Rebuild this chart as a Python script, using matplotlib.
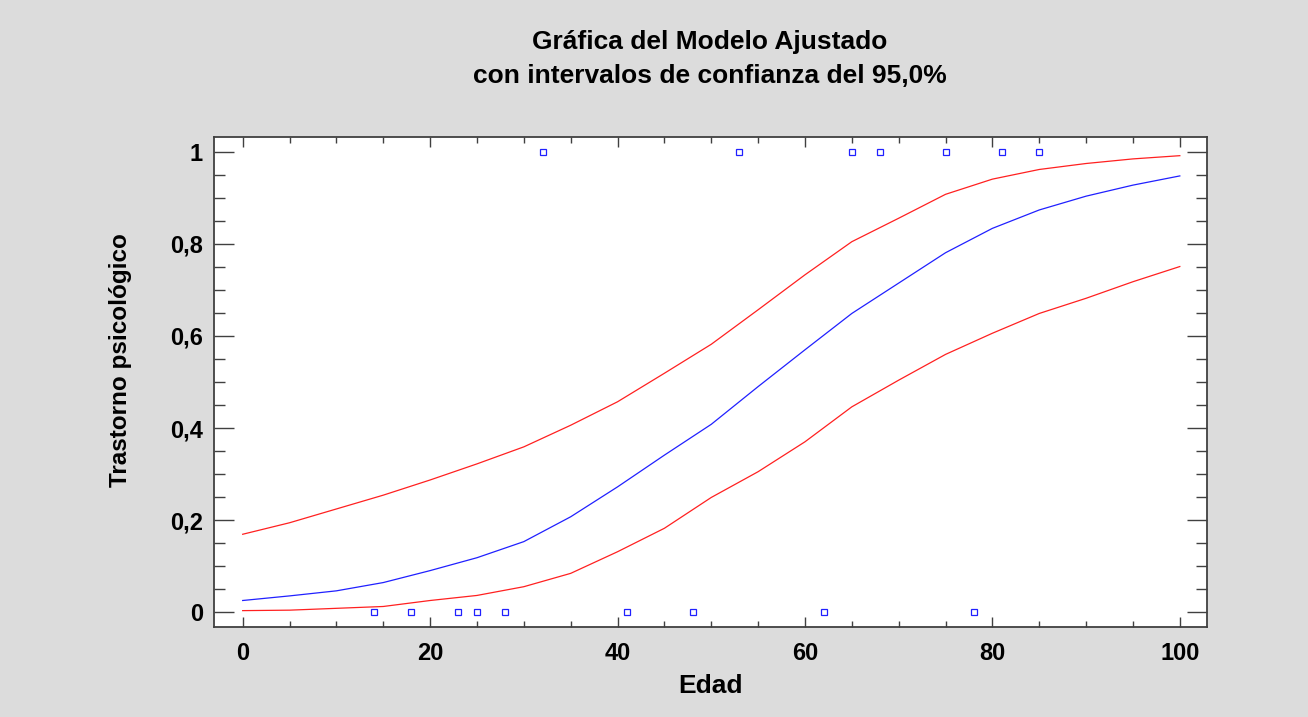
import numpy as np
import matplotlib
matplotlib.use("Agg")
import matplotlib.pyplot as plt
from matplotlib.ticker import MultipleLocator, FuncFormatter

# observed cases (Edad, Trastorno psicologico 0/1)
edad_0 = [14, 18, 23, 25, 28, 41, 48, 62, 78]
edad_1 = [32, 53, 65, 68, 75, 81, 85]

# fitted model and 95% limits, every 5 years
edad_fit = [0, 5, 10, 15, 20, 25, 30, 35, 40, 45, 50,
            55, 60, 65, 70, 75, 80, 85, 90, 95, 100]
ajuste = [0.025, 0.035, 0.046, 0.064, 0.090, 0.118, 0.153, 0.207, 0.272, 0.341, 0.408,
          0.490, 0.570, 0.649, 0.715, 0.781, 0.834, 0.874, 0.904, 0.928, 0.948]
lim_sup = [0.169, 0.194, 0.224, 0.254, 0.287, 0.322, 0.359, 0.406, 0.457, 0.519, 0.582,
           0.657, 0.733, 0.805, 0.856, 0.908, 0.941, 0.962, 0.975, 0.985, 0.992]
lim_inf = [0.003, 0.004, 0.008, 0.012, 0.025, 0.036, 0.055, 0.084, 0.131, 0.182, 0.249,
           0.305, 0.370, 0.446, 0.504, 0.560, 0.606, 0.649, 0.682, 0.718, 0.751]

plt.rcParams['font.family'] = ['Liberation Sans', 'DejaVu Sans']
plt.rcParams['font.weight'] = 'bold'

bg = '#dcdcdc'
fig = plt.figure(figsize=(13.08, 7.17), dpi=100, facecolor=bg)
W, H = 1308, 717
ax = fig.add_axes([214 / W, 1 - 627 / H, (1207 - 214) / W, (627 - 137) / H])
ax.set_facecolor('white')

ax.plot(edad_fit, lim_sup, color='#ff2020', lw=0.9)
ax.plot(edad_fit, lim_inf, color='#ff2020', lw=0.9)
ax.plot(edad_fit, ajuste, color='#2020ff', lw=0.9)
ax.plot(edad_0, np.zeros(len(edad_0)), 's', ms=4.5, mfc='none', mec='#2020ff', mew=0.9)
ax.plot(edad_1, np.ones(len(edad_1)), 's', ms=4.5, mfc='none', mec='#2020ff', mew=0.9)

ax.set_xlim(-3.06, 102.9)
ax.set_ylim(-0.0326, 1.0326)

ax.xaxis.set_major_locator(MultipleLocator(20))
ax.xaxis.set_minor_locator(MultipleLocator(5))
ax.yaxis.set_major_locator(MultipleLocator(0.2))
ax.yaxis.set_minor_locator(MultipleLocator(0.05))
ax.yaxis.set_major_formatter(FuncFormatter(lambda v, p: f"{v:g}".replace('.', ',')))

for s in ax.spines.values():
    s.set_color('#404040')
    s.set_linewidth(1.3)

ax.tick_params(axis='both', which='both', direction='in', top=True, right=True,
               color='#404040', width=1.0, labelsize=17)
ax.tick_params(axis='x', which='major', length=7.5, pad=11)
ax.tick_params(axis='x', which='minor', length=4)
ax.tick_params(axis='y', which='major', length=14.5, pad=8)
ax.tick_params(axis='y', which='minor', length=8)
for lab in ax.get_xticklabels() + ax.get_yticklabels():
    lab.set_fontweight('bold')

fig.text(710 / W, 1 - 42 / H, 'Gráfica del Modelo Ajustado', ha='center', va='center',
         fontsize=19, fontweight='bold')
fig.text(710 / W, 1 - 76 / H, 'con intervalos de confianza del 95,0%', ha='center',
         va='center', fontsize=19, fontweight='bold')
fig.text(710 / W, 1 - 686 / H, 'Edad', ha='center', va='center', fontsize=19,
         fontweight='bold')
fig.text(120 / W, 1 - 360 / H, 'Trastorno psicológico', ha='center', va='center',
         rotation=90, fontsize=17.5, fontweight='bold')

fig.savefig('out.png', dpi=100, facecolor=bg)
